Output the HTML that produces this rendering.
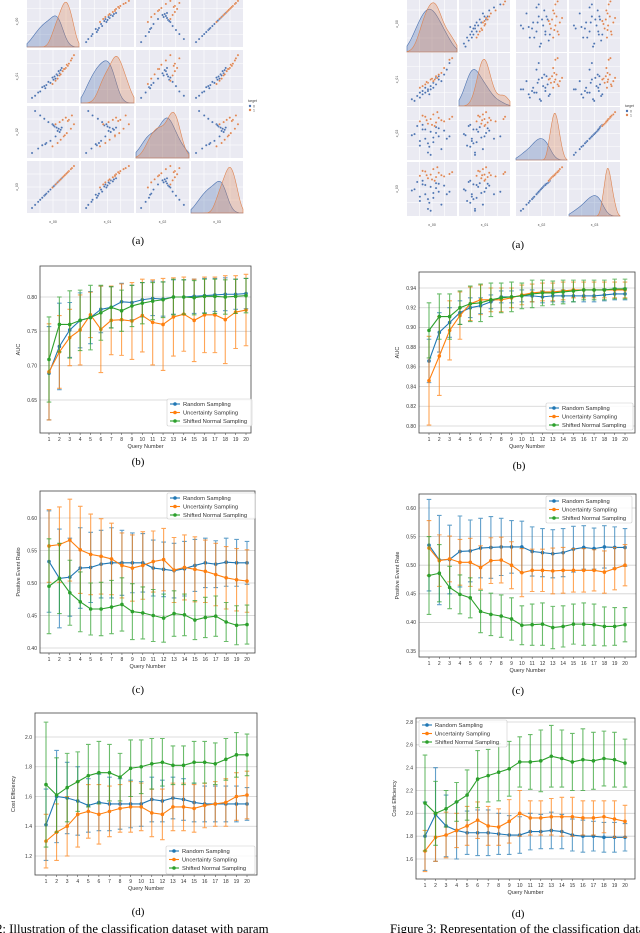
<!DOCTYPE html>
<html><head><meta charset="utf-8"><style>
html,body{margin:0;padding:0;background:#fff;}
svg{display:block;font-family:"Liberation Sans",sans-serif;}
.cap{font-family:"Liberation Serif",serif;font-size:11px;fill:#000;}
</style></head><body>
<svg id="fig" width="640" height="933" viewBox="0 0 640 933" xmlns="http://www.w3.org/2000/svg">
<text class="cap" x="138" y="244" text-anchor="middle">(a)</text>
<text class="cap" x="518" y="248" text-anchor="middle">(a)</text>
<text class="cap" x="138" y="465" text-anchor="middle">(b)</text>
<text class="cap" x="519" y="469" text-anchor="middle">(b)</text>
<text class="cap" x="138" y="693" text-anchor="middle">(c)</text>
<text class="cap" x="518" y="694" text-anchor="middle">(c)</text>
<text class="cap" x="138" y="915" text-anchor="middle">(d)</text>
<text class="cap" x="518" y="917" text-anchor="middle">(d)</text>
<text x="-4" y="933" style="font-family:'Liberation Serif',serif;font-size:12.8px">2: Illustration of the classification dataset with param</text>
<text x="390" y="933" style="font-family:'Liberation Serif',serif;font-size:12.8px">Figure 3: Representation of the classification dataset</text>
</svg>
<script>
// ---------- error-bar chart data ----------
const queries = [1,2,3,4,5,6,7,8,9,10,11,12,13,14,15,16,17,18,19,20];
const seriesNames = ["Random Sampling","Uncertainty Sampling","Shifted Normal Sampling"];

const lbRandom = [0.689,0.728,0.752,0.766,0.770,0.782,0.785,0.793,0.792,0.796,0.798,0.797,0.800,0.800,0.801,0.802,0.803,0.804,0.804,0.805];
const lbRandomErr = [0.068,0.063,0.040,0.040,0.038,0.034,0.030,0.027,0.025,0.025,0.025,0.025,0.025,0.025,0.025,0.025,0.024,0.024,0.022,0.022];
const lbUnc = [0.691,0.720,0.741,0.752,0.774,0.753,0.766,0.767,0.765,0.773,0.763,0.760,0.771,0.775,0.766,0.774,0.774,0.767,0.778,0.781];
const lbUncErr = [0.070,0.053,0.041,0.051,0.033,0.063,0.050,0.052,0.056,0.053,0.062,0.067,0.057,0.054,0.060,0.055,0.055,0.064,0.053,0.052];
const lbShift = [0.709,0.760,0.760,0.766,0.770,0.777,0.785,0.780,0.787,0.791,0.794,0.796,0.800,0.800,0.799,0.801,0.801,0.800,0.801,0.802];
const lbShiftErr = [0.062,0.040,0.049,0.044,0.047,0.040,0.030,0.030,0.030,0.030,0.027,0.026,0.026,0.025,0.025,0.025,0.025,0.025,0.025,0.025];
const lbTicks = [0.65,0.70,0.75,0.80];

const rbRandom = [0.866,0.895,0.905,0.915,0.920,0.922,0.926,0.931,0.931,0.932,0.932,0.931,0.932,0.932,0.932,0.932,0.932,0.933,0.934,0.934];
const rbRandomErr = [0.022,0.020,0.015,0.012,0.010,0.008,0.007,0.006,0.006,0.006,0.006,0.006,0.006,0.006,0.006,0.006,0.006,0.006,0.006,0.006];
const rbUnc = [0.846,0.871,0.897,0.912,0.924,0.928,0.928,0.928,0.930,0.933,0.935,0.936,0.936,0.937,0.938,0.938,0.938,0.938,0.938,0.938];
const rbUncErr = [0.045,0.040,0.030,0.024,0.017,0.015,0.012,0.012,0.010,0.010,0.009,0.009,0.009,0.009,0.008,0.008,0.008,0.008,0.008,0.008];
const rbShift = [0.897,0.911,0.911,0.920,0.924,0.925,0.928,0.930,0.931,0.932,0.934,0.935,0.935,0.936,0.937,0.938,0.938,0.938,0.939,0.939];
const rbShiftErr = [0.028,0.023,0.023,0.017,0.018,0.019,0.017,0.015,0.015,0.013,0.014,0.013,0.012,0.012,0.011,0.010,0.010,0.010,0.010,0.010];
const rbTicks = [0.80,0.82,0.84,0.86,0.88,0.90,0.92,0.94];

const lcRandom = [0.533,0.507,0.509,0.523,0.524,0.529,0.531,0.531,0.531,0.531,0.523,0.521,0.519,0.522,0.527,0.531,0.529,0.532,0.531,0.531];
const lcRandomErr = [0.078,0.076,0.060,0.062,0.054,0.052,0.054,0.050,0.046,0.045,0.043,0.042,0.042,0.042,0.040,0.038,0.036,0.037,0.036,0.033];
const lcUnc = [0.557,0.559,0.566,0.551,0.544,0.541,0.537,0.527,0.523,0.527,0.533,0.536,0.520,0.524,0.521,0.518,0.513,0.508,0.505,0.503];
const lcUncErr = [0.056,0.058,0.063,0.067,0.062,0.058,0.055,0.050,0.051,0.052,0.047,0.048,0.050,0.050,0.050,0.048,0.048,0.048,0.048,0.048];
const lcShift = [0.495,0.507,0.485,0.471,0.460,0.460,0.463,0.467,0.456,0.454,0.450,0.446,0.453,0.451,0.443,0.447,0.449,0.440,0.435,0.436];
const lcShiftErr = [0.073,0.054,0.050,0.046,0.040,0.041,0.041,0.041,0.043,0.040,0.040,0.037,0.035,0.032,0.030,0.031,0.031,0.030,0.030,0.030];
const lcTicks = [0.40,0.45,0.50,0.55,0.60];

const rcRandom = [0.535,0.509,0.510,0.524,0.525,0.530,0.531,0.532,0.532,0.532,0.524,0.522,0.520,0.522,0.528,0.531,0.529,0.532,0.531,0.531];
const rcRandomErr = [0.080,0.078,0.060,0.062,0.054,0.052,0.054,0.050,0.046,0.045,0.043,0.042,0.042,0.042,0.040,0.038,0.036,0.037,0.036,0.033];
const rcUnc = [0.530,0.508,0.511,0.505,0.505,0.496,0.508,0.509,0.500,0.487,0.491,0.491,0.490,0.491,0.491,0.491,0.491,0.488,0.494,0.500];
const rcUncErr = [0.048,0.045,0.040,0.040,0.042,0.038,0.040,0.040,0.041,0.042,0.037,0.037,0.040,0.040,0.038,0.038,0.036,0.037,0.037,0.036];
const rcShift = [0.482,0.486,0.461,0.449,0.443,0.419,0.414,0.411,0.406,0.395,0.396,0.397,0.391,0.393,0.397,0.397,0.396,0.393,0.393,0.396];
const rcShiftErr = [0.068,0.050,0.037,0.034,0.035,0.037,0.037,0.037,0.037,0.034,0.036,0.037,0.037,0.036,0.035,0.037,0.036,0.034,0.033,0.030];
const rcTicks = [0.35,0.40,0.45,0.50,0.55,0.60];

const ldRandom = [1.41,1.60,1.59,1.57,1.54,1.56,1.55,1.55,1.55,1.55,1.58,1.57,1.59,1.58,1.56,1.55,1.55,1.55,1.55,1.55];
const ldRandomErr = [0.24,0.31,0.24,0.23,0.18,0.19,0.18,0.17,0.16,0.15,0.15,0.14,0.14,0.14,0.13,0.12,0.12,0.12,0.12,0.11];
const ldUnc = [1.30,1.36,1.40,1.48,1.50,1.48,1.50,1.52,1.53,1.53,1.49,1.48,1.53,1.53,1.52,1.54,1.55,1.56,1.60,1.61];
const ldUncErr = [0.18,0.19,0.20,0.22,0.18,0.20,0.17,0.16,0.17,0.16,0.16,0.17,0.16,0.16,0.16,0.15,0.15,0.16,0.16,0.16];
const ldShift = [1.68,1.61,1.66,1.70,1.74,1.76,1.76,1.73,1.79,1.80,1.82,1.83,1.81,1.81,1.83,1.83,1.82,1.85,1.88,1.88];
const ldShiftErr = [0.42,0.25,0.23,0.20,0.21,0.21,0.19,0.16,0.19,0.18,0.17,0.16,0.13,0.13,0.14,0.14,0.14,0.14,0.15,0.14];
const ldTicks = [1.2,1.4,1.6,1.8,2.0];

const rdRandom = [1.80,1.99,1.89,1.85,1.83,1.83,1.83,1.82,1.81,1.81,1.84,1.84,1.85,1.84,1.81,1.80,1.80,1.79,1.79,1.79];
const rdRandomErr = [0.30,0.41,0.27,0.25,0.19,0.20,0.20,0.18,0.17,0.16,0.16,0.15,0.16,0.15,0.14,0.14,0.13,0.13,0.13,0.12];
const rdUnc = [1.67,1.79,1.81,1.85,1.89,1.94,1.89,1.88,1.93,2.00,1.96,1.96,1.97,1.97,1.97,1.96,1.96,1.97,1.95,1.93];
const rdUncErr = [0.18,0.21,0.20,0.15,0.17,0.16,0.17,0.16,0.19,0.20,0.15,0.15,0.16,0.17,0.17,0.15,0.15,0.14,0.16,0.14];
const rdShift = [2.09,2.00,2.04,2.10,2.16,2.30,2.33,2.36,2.39,2.45,2.45,2.46,2.50,2.48,2.45,2.47,2.46,2.48,2.47,2.44];
const rdShiftErr = [0.42,0.28,0.16,0.17,0.22,0.25,0.23,0.25,0.24,0.22,0.24,0.27,0.27,0.25,0.25,0.27,0.25,0.24,0.24,0.21];
const rdTicks = [1.6,1.8,2.0,2.2,2.4,2.6,2.8];

// ---------- pair-plot data ----------
const lpBlueF0 = [-2.8,-2.5,-2.2,-2,-1.8,-1.6,-1.4,-1.2,-1,-0.8,-0.6,-0.5,-0.4,-0.3,-0.2,-0.1,0,0.1,-1.5,-0.7];
const lpBlueF1 = [-2.5,-2.3,-2.0,-1.9,-1.5,-1.4,-1.3,-1.0,-1.1,-0.6,-0.5,-0.7,-0.3,-0.4,0,-0.2,0.1,0.3,-1.6,-0.8];
const lpBlueF2 = [-1.8,2,-1.4,1.6,-1.1,1.3,-0.9,1.0,-0.7,0.8,0.6,-0.3,0.5,0.2,0.4,0.1,0.3,0.5,-1.0,0.7];
const lpBlueF3 = [-2.8,-2.5,-2.2,-2,-1.8,-1.6,-1.4,-1.2,-1,-0.8,-0.6,-0.5,-0.4,-0.3,-0.2,-0.1,0,0.1,-1.5,-0.7];
const lpOrgF0 = [-0.8,-0.5,-0.3,-0.1,0,0.2,0.3,0.5,0.6,0.8,1,1.1,1.3,0.4,0.7];
const lpOrgF1 = [-1.2,-0.9,-0.7,-0.4,-0.3,0,0.2,0.3,0.6,0.7,1.0,1.2,1.5,0.2,0.5];
const lpOrgF2 = [-1.2,0.8,-0.9,1.0,-0.6,1.2,-0.3,1.4,0,1.2,0.4,1.6,0.8,-0.2,1.1];
const lpOrgF3 = [-0.8,-0.5,-0.3,-0.1,0,0.2,0.3,0.5,0.6,0.8,1,1.1,1.3,0.4,0.7];

const rpBlueF0 = [-0.6,-0.4,-0.3,-0.2,-0.1,0,0.1,0.2,0.3,0.4,0.5,0.6,-0.5,-0.2,0,0.2,0.4,-0.3,0.1,0.3,0.7,-0.1,0.05,0.8];
const rpBlueF1 = [-0.9,-0.7,-0.8,-0.4,-0.5,-0.3,-0.1,-0.2,0,0.3,0.2,0.6,-1.0,-0.6,-0.4,0.1,0.5,-0.5,-0.3,0.4,0.9,-0.2,-0.6,1.3];
const rpBlueF2 = [-0.3,0.5,-1.2,0.2,-0.6,-1.8,0,-0.9,0.4,-0.4,-1.5,0.1,-0.2,0.6,-1.0,-0.5,0.3,-0.8,-2.0,-0.1,-0.6,0.2,-1.3,-0.4];
const rpBlueF3 = [-0.25,0.45,-1.1,0.25,-0.55,-1.75,0.05,-0.85,0.35,-0.35,-1.4,0.15,-0.15,0.55,-0.95,-0.45,0.3,-0.75,-1.9,-0.05,-0.55,0.2,-1.25,-0.35];
const rpOrgF0 = [-0.3,-0.1,0,0.1,0.2,0.3,0.4,0.5,-0.2,0.15,0.35,0.6,0.8,0.9,-0.05,0.25];
const rpOrgF1 = [-0.2,0,0.1,0.3,0.2,0.5,0.6,0.7,-0.1,0.35,0.4,1.0,1.5,1.6,0.15,0.3];
const rpOrgF2 = [0.9,1.3,0.7,1.1,1.5,0.8,1.2,1.0,1.4,0.6,1.7,0.9,1.1,1.3,1.0,0.5];
const rpOrgF3 = [0.95,1.3,0.75,1.05,1.5,0.85,1.2,1.0,1.35,0.65,1.65,0.9,1.1,1.25,1.0,0.55];

const NS = "http://www.w3.org/2000/svg";
const svg = document.getElementById("fig");
const COLORS = ["#1f77b4","#ff7f0e","#2ca02c"];
function mk(tag, attrs, parent){
  const e = document.createElementNS(NS, tag);
  for (const k in attrs) e.setAttribute(k, attrs[k]);
  (parent||svg).appendChild(e);
  return e;
}

function errorChart(id, geo, series, ticks, dec, ylabel){
  const g = mk("g", {});
  
  
  const [L,T,R,B] = geo.box;
  const ys = v => geo.p0 + (v - geo.v0) * (geo.p1 - geo.p0) / (geo.v1 - geo.v0);
  const xs = q => geo.x1 + (q - 1) * (geo.x20 - geo.x1) / 19;
  ticks.forEach(t => {
    const y = ys(t);
    const gl = mk("line", {x1:L, x2:R, y1:y, y2:y, stroke:"#d0d0d0", "stroke-width":0.8}, g);
    
    
    const tl = mk("text", {x:L-3, y:y+1.8, "font-size":5, "text-anchor":"end", fill:"#333"}, g);
    
    
    tl.textContent = t.toFixed(dec);
  });
  queries.forEach(q => {
    const x = xs(q);
    mk("line", {x1:x, x2:x, y1:B, y2:B+2, stroke:"#333", "stroke-width":0.5}, g);
    const tl = mk("text", {x:x, y:B+8, "font-size":5, "text-anchor":"middle", fill:"#333"}, g);
    
    
    tl.textContent = q;
  });
  series.forEach((s, si) => {
    const c = COLORS[si];
    const sg = mk("g", {}, g);
    
    
    s.mean.forEach((m, i) => {
      const x = xs(queries[i]), y1 = ys(m - s.err[i]), y2 = ys(m + s.err[i]);
      const eb = mk("path", {d:`M${x},${y1}V${y2}M${x-2.3},${y1}h4.6M${x-2.3},${y2}h4.6`, stroke:c, "stroke-width":1.1, fill:"none", opacity:0.7}, sg);
      
      
    });
    const pts = s.mean.map((m,i) => xs(queries[i]) + "," + ys(m)).join(" ");
    const ln = mk("polyline", {points:pts, fill:"none", stroke:c, "stroke-width":1.1}, sg);
    
    
    s.mean.forEach((m, i) => {
      const pt = mk("circle", {cx:xs(queries[i]), cy:ys(m), r:1.8, fill:c}, sg);
      
      
    });
  });
  const fr = mk("rect", {x:L, y:T, width:R-L, height:B-T, fill:"none", stroke:"#444", "stroke-width":0.8}, g);
  
  
  const xl = mk("text", {x:(L+R)/2, y:B+15, "font-size":5.5, "text-anchor":"middle", fill:"#333"}, g);
  
  
  xl.textContent = "Query Number";
  const yl = mk("text", {x:0, y:0, "font-size":5.5, "text-anchor":"middle", fill:"#333", transform:`translate(${L-20},${(T+B)/2}) rotate(-90)`}, g);
  
  
  yl.textContent = ylabel;
  const [lx,ly,lw,lh] = geo.legend;
  const lg = mk("g", {}, g);
  
  
  mk("rect", {x:lx, y:ly, width:lw, height:lh, fill:"#fff", "fill-opacity":0.85, stroke:"#ccc", "stroke-width":0.6, rx:1.5}, lg);
  seriesNames.forEach((n, i) => {
    const yy = ly + 5 + i*8.5;
    const le = mk("g", {}, lg);
    
    
    mk("line", {x1:lx+3, x2:lx+13, y1:yy, y2:yy, stroke:COLORS[i], "stroke-width":1.1}, le);
    mk("circle", {cx:lx+8, cy:yy, r:1.8, fill:COLORS[i]}, le);
    const t = mk("text", {x:lx+16, y:yy+2, "font-size":5.8, fill:"#333"}, le);
    t.textContent = n;
  });
}

errorChart("left-b-auc", {box:[40,266,251,433], v0:0.80,p0:297, v1:0.65,p1:400, x1:49, x20:246, legend:[167,399,85,27]},
  [{mean:lbRandom,err:lbRandomErr},{mean:lbUnc,err:lbUncErr},{mean:lbShift,err:lbShiftErr}], lbTicks, 2, "AUC");
errorChart("right-b-auc", {box:[419,272,635,433], v0:0.94,p0:288, v1:0.80,p1:426, x1:429, x20:625, legend:[546,403,87,27]},
  [{mean:rbRandom,err:rbRandomErr},{mean:rbUnc,err:rbUncErr},{mean:rbShift,err:rbShiftErr}], rbTicks, 2, "AUC");
errorChart("left-c-ratio", {box:[40,491,255,653], v0:0.60,p0:518, v1:0.40,p1:648, x1:49, x20:247, legend:[167,493,88,26]},
  [{mean:lcRandom,err:lcRandomErr},{mean:lcUnc,err:lcUncErr},{mean:lcShift,err:lcShiftErr}], lcTicks, 2, "Positive Event Ratio");
errorChart("right-c-ratio", {box:[419,494,636,657], v0:0.60,p0:508, v1:0.35,p1:651, x1:429, x20:625, legend:[546,496,86,27]},
  [{mean:rcRandom,err:rcRandomErr},{mean:rcUnc,err:rcUncErr},{mean:rcShift,err:rcShiftErr}], rcTicks, 2, "Positive Event Rate");
errorChart("left-d-cost", {box:[35,713,257,875], v0:2.0,p0:737, v1:1.2,p1:856, x1:46, x20:247, legend:[166,846,89,28]},
  [{mean:ldRandom,err:ldRandomErr},{mean:ldUnc,err:ldUncErr},{mean:ldShift,err:ldShiftErr}], ldTicks, 1, "Cost Efficiency");
errorChart("right-d-cost", {box:[416,718,635,879], v0:2.8,p0:722, v1:1.6,p1:859, x1:425, x20:625, legend:[419,720,88,27]},
  [{mean:rdRandom,err:rdRandomErr},{mean:rdUnc,err:rdUncErr},{mean:rdShift,err:rdShiftErr}], rdTicks, 1, "Cost Efficiency");

// ---------- pair plots ----------
function pairPlot(id, cols, rows, blue, org, legendPos, labels){
  const g = mk("g", {});
  
  
  const all = [0,1,2,3].map(k => blue[k].concat(org[k]));
  const rng = all.map(a => { const mn = Math.min(...a), mx = Math.max(...a), p=(mx-mn)*0.12; return [mn-p, mx+p]; });
  for (let r=0;r<4;r++) for (let c=0;c<4;c++){
    const [x0,x1] = cols[c], [y0,y1] = rows[r];
    const pg = mk("g", {}, g);
    
    
    mk("rect", {x:x0, y:y0, width:x1-x0, height:y1-y0, fill:"#eaeaf2"}, pg);
    for (let k=1;k<4;k++){
      mk("line", {x1:x0+(x1-x0)*k/4, x2:x0+(x1-x0)*k/4, y1:y0, y2:y1, stroke:"#fff", "stroke-width":0.6}, pg);
      mk("line", {x1:x0, x2:x1, y1:y0+(y1-y0)*k/4, y2:y0+(y1-y0)*k/4, stroke:"#fff", "stroke-width":0.6}, pg);
    }
    const sx = v => x0 + (v - rng[c][0])/(rng[c][1]-rng[c][0])*(x1-x0);
    const sy = v => y1 - (v - rng[r][0])/(rng[r][1]-rng[r][0])*(y1-y0);
    if (r === c){
      const curves = [[blue,"#4c72b0"],[org,"#dd8452"]].map(([d,col]) => {
        const arr = d[c], n = arr.length;
        const mean = arr.reduce((a,b)=>a+b,0)/n;
        const sd = Math.sqrt(arr.reduce((a,b)=>a+(b-mean)*(b-mean),0)/n) || 0.3;
        const bw = 0.6*sd;
        const dens = [];
        for (let i=0;i<=40;i++){
          const v = rng[c][0] + (rng[c][1]-rng[c][0])*i/40;
          let s=0; arr.forEach(a => { s += Math.exp(-0.5*((v-a)/bw)**2); });
          dens.push([v, s/(n*bw)]);
        }
        return {dens, col};
      });
      const dmax = Math.max(...curves.map(cv => Math.max(...cv.dens.map(p => p[1]))));
      curves.forEach(({dens, col}) => {
        let dpath = `M${sx(dens[0][0])},${y1}`;
        dens.forEach(([v,dv]) => { dpath += `L${sx(v)},${y1 - dv/dmax*0.88*(y1-y0)}`; });
        dpath += `L${sx(dens[40][0])},${y1}Z`;
        const kd = mk("path", {d:dpath, fill:col, "fill-opacity":0.3, stroke:col, "stroke-width":0.6}, pg);
        
        
      });
    } else {
      [[blue,"#4c72b0"],[org,"#dd8452"]].forEach(([d,col]) => {
        d[c].forEach((v,i) => {
          const p = mk("circle", {cx:sx(v), cy:sy(d[r][i]), r:1.1, fill:col, stroke:"#fff", "stroke-width":0.2}, pg);
          
          
        });
      });
    }
    if (c === 0){
      const t = mk("text", {x:0,y:0,"font-size":3.5,"text-anchor":"middle",fill:"#444",transform:`translate(${x0-9},${(y0+y1)/2}) rotate(-90)`}, pg);
      t.textContent = labels[r];
    }
    if (r === 3){
      const t = mk("text", {x:(x0+x1)/2,y:y1+10,"font-size":3.5,"text-anchor":"middle",fill:"#444"}, pg);
      t.textContent = labels[c];
    }
  }
  const lg = mk("g", {}, g);
  
  
  const [lx,ly] = legendPos;
  mk("text", {x:lx, y:ly, "font-size":3.5, fill:"#444"}, lg).textContent = "target";
  mk("circle", {cx:lx+2, cy:ly+4, r:1.2, fill:"#4c72b0"}, lg);
  mk("text", {x:lx+5, y:ly+5.3, "font-size":3.5, fill:"#444"}, lg).textContent = "0";
  mk("circle", {cx:lx+2, cy:ly+8, r:1.2, fill:"#dd8452"}, lg);
  mk("text", {x:lx+5, y:ly+9.3, "font-size":3.5, fill:"#444"}, lg).textContent = "1";
}

pairPlot("left-pairplot", [[27,79],[81,134],[136,189],[191,243]], [[-4,47],[50,103],[106,158],[161,213]],
  [lpBlueF0,lpBlueF1,lpBlueF2,lpBlueF3], [lpOrgF0,lpOrgF1,lpOrgF2,lpOrgF3], [248,102], ["x_00","x_01","x_02","x_03"]);
pairPlot("right-pairplot", [[407,457],[459,510],[516,567],[569,620]], [[-4,52],[53,106],[107,160],[162,216]],
  [rpBlueF0,rpBlueF1,rpBlueF2,rpBlueF3], [rpOrgF0,rpOrgF1,rpOrgF2,rpOrgF3], [625,107], ["x_00","x_01","x_02","x_03"]);
</script>
</body></html>
